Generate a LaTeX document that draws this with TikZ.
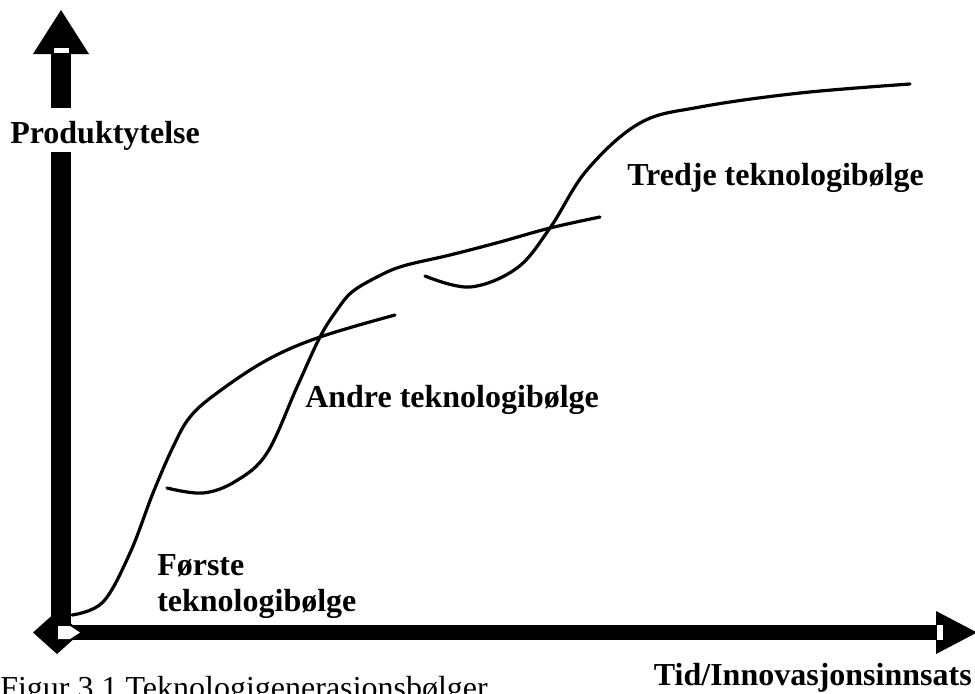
\documentclass[tikz,border=0pt]{standalone}
\usepackage{fontspec}
\setmainfont{Liberation Serif}
\begin{document}
\begin{tikzpicture}[x=0.75pt,y=-0.75pt,
  wave/.style={line width=2.4pt, line cap=round},
  lbl/.style={font=\fontsize{24}{28}\selectfont\bfseries, anchor=base west, inner sep=0pt},
  captxt/.style={font=\fontsize{24}{28}\selectfont, anchor=base west, inner sep=0pt}]
\useasboundingbox (0,0) rectangle (975,693);
\clip (0,0) rectangle (975,693);

% vertical axis: shaft and arrowhead
\fill[black] (51,53) rectangle (71,632);
\fill[black] (33,54) -- (61,10) -- (89,54) -- cycle;
\fill[white] (54,48) rectangle (69,53);

% horizontal axis: shaft, diamond at the origin, arrowhead
\fill[black] (57,625) rectangle (937,640);
\fill[black] (33,632.5) -- (57,611) -- (81,632.5) -- (57,654) -- cycle;
\fill[white] (58,626) -- (70,626) -- (80,632.5) -- (70,639) -- (58,639) -- cycle;
\fill[black] (936,611) -- (977,632.5) -- (936,654) -- cycle;
\fill[white] (937,625) rectangle (943,640);

% y-axis label, with the shaft masked behind it
\fill[white] (45,108) rectangle (77,152);
\node[lbl] (ylab) at (10,143) {Produktytelse};
\node[lbl, anchor=base east] (xlab) at (972,685) {Tid/Innovasjonsinnsats};

% the three technology waves
\draw[wave] plot[smooth, tension=0.6] coordinates {
  (72,615) (103,602) (130,553) (153,493) (173,447) (190,417) (217,393)
  (267,360) (320,337) (395,315)};
\draw[wave] plot[smooth, tension=0.6] coordinates {
  (167,488) (203,493) (236,481) (267,453) (297,387) (320,337) (337,310)
  (352,292) (377,277) (403,266) (450,255) (500,242) (550,228) (600,217)};
\draw[wave] plot[smooth, tension=0.6] coordinates {
  (425,276) (470,287) (517,268) (550,228) (587,170) (640,123) (700,107)
  (800,93) (910,84)};

\node[lbl] (w1a) at (157,575) {Første};
\node[lbl] (w1b) at (157,611) {teknologibølge};
\node[lbl] (w2) at (305,407) {Andre teknologibølge};
\node[lbl] (w3) at (627,185) {Tredje teknologibølge};

\node[captxt] (cap) at (0,698) {Figur 3.1 Teknologigenerasjonsbølger};
\end{tikzpicture}
\end{document}
